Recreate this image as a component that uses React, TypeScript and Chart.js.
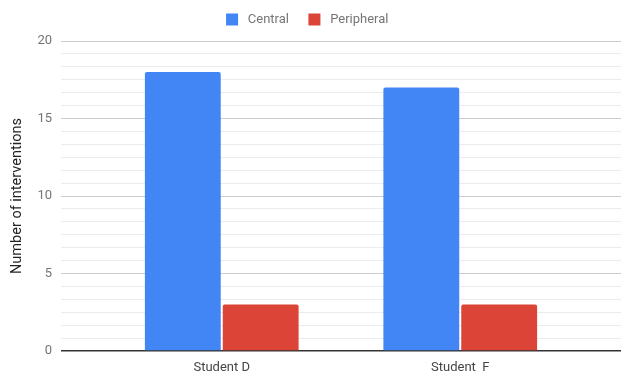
import React, { useEffect, useRef } from "react";
import { Chart, registerables } from "chart.js";

Chart.register(...registerables);

const categories = ["Student D", "Student  F"];
const centralValues = [18, 17];
const peripheralValues = [3, 3];
const seriesNames = ["Central", "Peripheral"];
const yTickLabels = [0, 5, 10, 15, 20];

export default function App() {
  const ref = useRef<HTMLCanvasElement | null>(null);

  useEffect(() => {
    if (!ref.current) return;
    const font = { family: "Roboto", size: 13 };
    const legendHeightPlugin = {
      id: "legendHeight",
      beforeInit(chart: any) {
        const lg = chart.legend;
        if (!lg) return;
        const orig = lg.fit;
        lg.fit = function () {
          orig.call(this);
          this.height = 41;
        };
      },
    };
    const chart = new Chart(ref.current, {
      type: "bar",
      data: {
        datasets: [
          {
            label: seriesNames[0],
            data: centralValues.map((v, i) => ({ x: i, y: v })),
            backgroundColor: "#4285F4",
            borderRadius: 2,
            borderSkipped: "bottom",
            categoryPercentage: 0.653,
            barPercentage: 0.974,
          },
          {
            label: seriesNames[1],
            data: peripheralValues.map((v, i) => ({ x: i, y: v })),
            backgroundColor: "#DB4437",
            borderRadius: 2,
            borderSkipped: "bottom",
            categoryPercentage: 0.653,
            barPercentage: 0.974,
          },
        ] as any,
      },
      options: {
        animation: false,
        responsive: false,
        maintainAspectRatio: false,
        layout: { padding: { left: 0, right: 0, top: 0, bottom: 0 } },
        plugins: {
          tooltip: { enabled: false },
          legend: {
            position: "top",
            labels: {
              boxWidth: 12,
              boxHeight: 12,
              padding: 13,
              color: "#757575",
              font,
              generateLabels(chart: any) {
                return chart.data.datasets.map((d: any, i: number) => ({
                  text: " " + d.label + "  ",
                  fillStyle: d.backgroundColor,
                  strokeStyle: d.backgroundColor,
                  lineWidth: 0,
                  datasetIndex: i,
                  fontColor: "#757575",
                }));
              },
            },
          },
        },
        scales: {
          x: {
            type: "linear",
            min: -0.674,
            max: 1.674,
            offset: false,
            afterBuildTicks(scale: any) {
              scale.ticks = categories.map((_, i) => ({ value: i }));
            },
            afterFit(scale: any) {
              scale.height = 21;
            },
            ticks: {
              autoSkip: false,
              maxRotation: 0,
              color: "#444444",
              font,
              padding: 9,
              callback: (v: any) => categories[Math.round(v)] ?? "",
            },
            grid: { display: false, drawTicks: false },
            border: { display: false },
          },
          y: {
            type: "linear",
            min: 0,
            max: 20,
            afterBuildTicks(scale: any) {
              const t = [];
              for (let i = 0; i <= 24; i++) t.push({ value: (i * 5) / 6 });
              scale.ticks = t;
            },
            afterFit(scale: any) {
              scale.width = 61;
            },
            ticks: {
              color: "#757575",
              font,
              padding: 9,
              autoSkip: false,
              callback: (v: any) => {
                const r = Math.round(v);
                return Math.abs(v - r) < 1e-6 && yTickLabels.includes(r) ? String(r) : "";
              },
            },
            grid: {
              drawTicks: false,
              color: (ctx: any) => {
                const v = ctx.tick ? ctx.tick.value : 0;
                const r = Math.round(v);
                if (Math.abs(v - r) < 1e-6 && r === 0) return "#333333";
                if (Math.abs(v - r) < 1e-6 && r % 5 === 0) return "#cccccc";
                return "#ebebeb";
              },
              lineWidth: (ctx: any) => {
                const v = ctx.tick ? ctx.tick.value : 0;
                return Math.abs(v) < 1e-6 ? 1.5 : 1;
              },
            },
            border: { display: false },
            title: {
              display: true,
              text: "Number of interventions",
              color: "#222222",
              font: { family: "Roboto", size: 14.5 },
              padding: { top: 9, bottom: 0 },
            },
          },
        },
      } as any,
      plugins: [legendHeightPlugin],
    });
    return () => chart.destroy();
  }, []);

  return (
    <div style={{ position: "fixed", left: 0, top: 0, width: 621, height: 372, background: "#fff" }}>
      <canvas ref={ref} width={621} height={372} style={{ width: 621, height: 372, display: "block" }} />
    </div>
  );
}
